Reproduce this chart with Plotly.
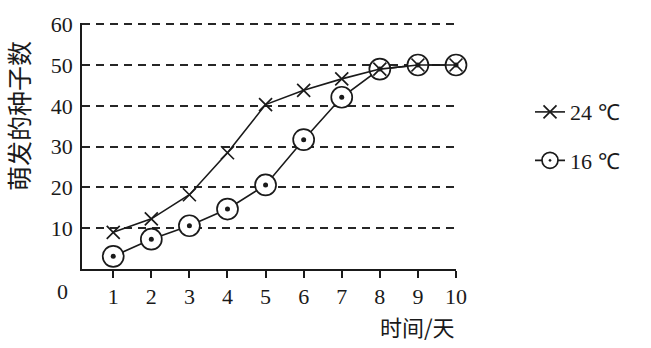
import plotly.graph_objects as go

days = [1, 2, 3, 4, 5, 6, 7, 8, 9, 10]
t24 = [9, 12.3, 18.2, 28.5, 40.3, 43.8, 46.6, 49, 50, 50]
t16 = [3.1, 7.3, 10.6, 14.7, 20.6, 31.7, 42.1, 49, 50, 50]
yticks = [10, 20, 30, 40, 50, 60]
xticks = [1, 2, 3, 4, 5, 6, 7, 8, 9, 10]

ink = "#1a1a1a"
serif = "Liberation Serif, serif"
cjk = "Noto Sans CJK SC, sans-serif"

pw, ph = 651 - 82 - 195, 348 - 15 - 79


def px(xp):
    return (xp - 82) / pw


def py(yp):
    return (348 - 79 - yp) / ph


fig = go.Figure()
fig.add_trace(go.Scatter(
    x=days, y=t16, name="16 ℃", mode="lines+markers",
    line=dict(color=ink, width=1.6),
    marker=dict(symbol="circle-dot", size=21, color="white",
                line=dict(color=ink, width=1.7)),
    cliponaxis=False, legend="legend2", showlegend=True))
fig.add_trace(go.Scatter(
    x=days, y=t16, mode="markers", hoverinfo="skip",
    marker=dict(symbol="circle", size=5, color=ink),
    cliponaxis=False, showlegend=False))
fig.add_trace(go.Scatter(
    x=days, y=t24, name="24 ℃", mode="lines+markers",
    line=dict(color=ink, width=1.6),
    marker=dict(symbol="x-thin", size=13, color=ink,
                line=dict(color=ink, width=1.7)),
    cliponaxis=False, legend="legend", showlegend=True))

fig.update_layout(
    width=651, height=348, showlegend=True,
    margin=dict(l=82, r=195, t=15, b=79),
    plot_bgcolor="white", paper_bgcolor="white",
    font=dict(family=serif, size=22, color=ink),
    legend=dict(x=px(530), y=py(107), xanchor="left", yanchor="middle",
                bgcolor="rgba(0,0,0,0)", font=dict(size=22, family=serif)),
    legend2=dict(x=px(530), y=py(157), xanchor="left", yanchor="middle",
                 bgcolor="rgba(0,0,0,0)", font=dict(size=22, family=serif)),
    xaxis=dict(range=[0.18, 10], tickvals=xticks, ticks="outside", ticklen=7,
               tickwidth=1.5, tickcolor=ink, showline=True, linecolor=ink,
               linewidth=1.6, showgrid=False, zeroline=False,
               tickfont=dict(size=22, family=serif), ticklabelstandoff=0),
    yaxis=dict(range=[0, 60.3], tickvals=yticks, ticks="", showline=True,
               linecolor=ink, linewidth=1.6, showgrid=True, gridcolor="#262626",
               gridwidth=1.5, griddash="8px,6px", zeroline=False,
               tickfont=dict(size=22, family=serif), ticklabelstandoff=3),
    annotations=[
        dict(text="萌发的种子数", textangle=-90, x=px(18), y=py(111),
             xref="paper", yref="paper", xanchor="center", yanchor="middle",
             showarrow=False, font=dict(family=cjk, size=25, color=ink)),
        dict(text="时间/天", x=px(457), y=py(328), xref="paper", yref="paper",
             xanchor="right", yanchor="middle", showarrow=False,
             font=dict(family=cjk, size=22, color=ink)),
        dict(text="0", x=px(62), y=py(292), xref="paper", yref="paper",
             xanchor="center", yanchor="middle", showarrow=False,
             font=dict(family=serif, size=22, color=ink)),
    ],
)
fig.write_html("out.html")
